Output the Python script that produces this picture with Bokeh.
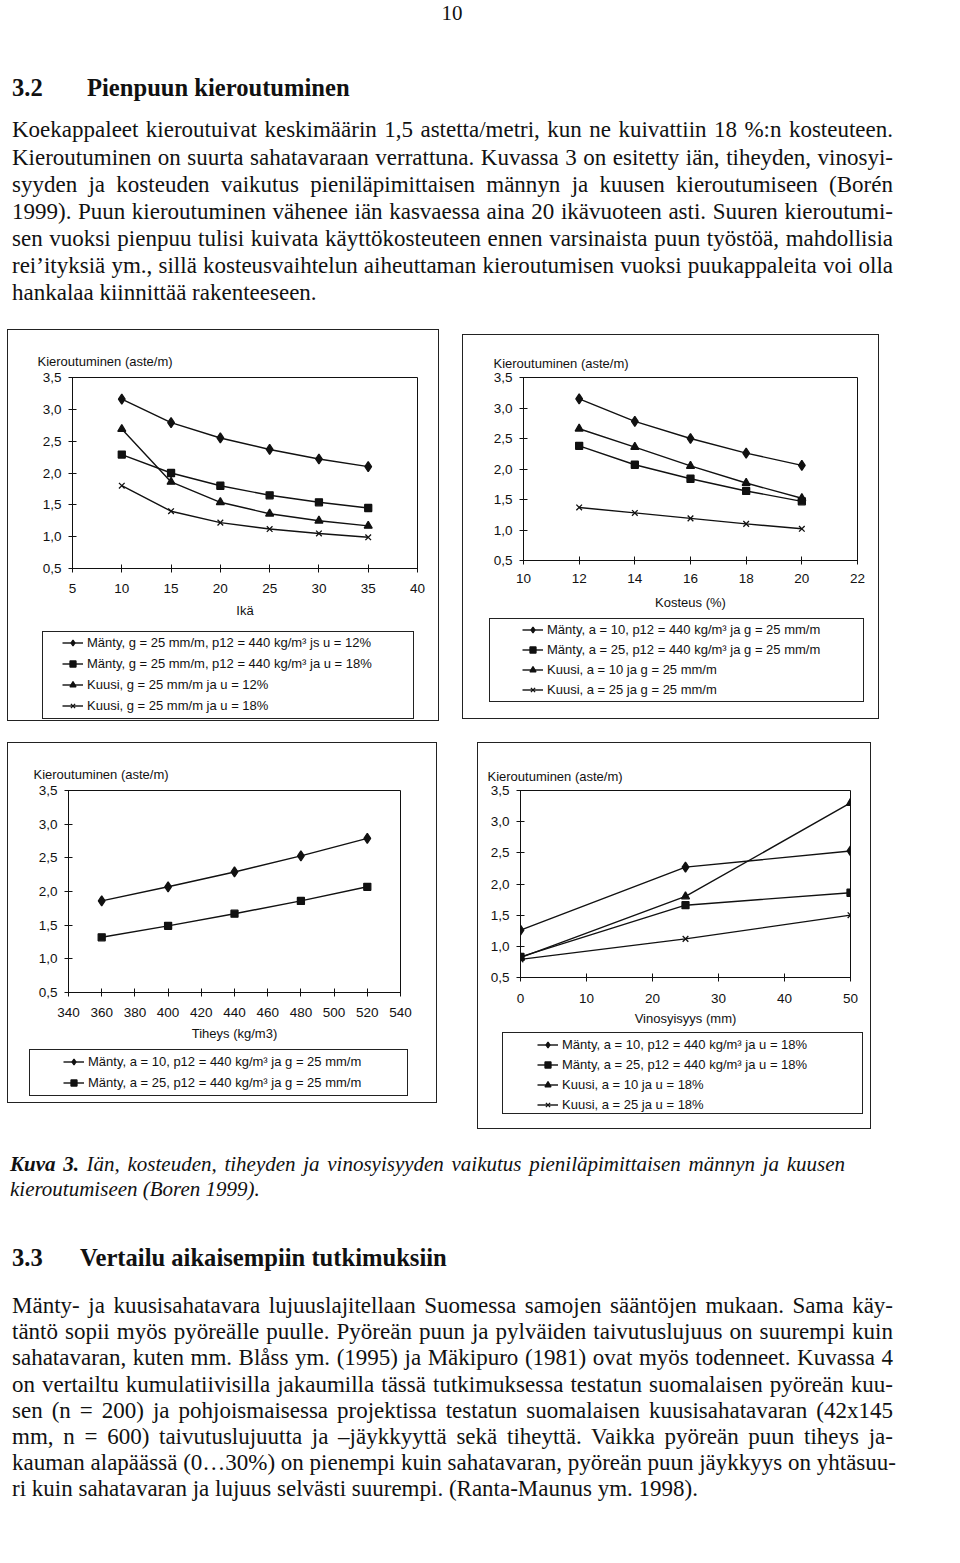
from bokeh.plotting import figure
from bokeh.models import Div, Legend, LegendItem, FixedTicker, CustomJSTickFormatter, Range1d, Title
from bokeh.embed import file_html
from bokeh.resources import INLINE

# ---------------- data ----------------
# Chart 1: age (Ikä)
ika = [10, 15, 20, 25, 30, 35]
ika_manty_u12 = [3.16, 2.79, 2.55, 2.37, 2.22, 2.10]
ika_manty_u18 = [2.29, 2.00, 1.80, 1.65, 1.54, 1.45]
ika_kuusi_u12 = [2.69, 1.86, 1.54, 1.36, 1.25, 1.17]
ika_kuusi_u18 = [1.80, 1.40, 1.22, 1.12, 1.05, 0.99]
ika_ticks = [5, 10, 15, 20, 25, 30, 35, 40]
ika_labels = ["Mänty, g = 25 mm/m, p12 = 440 kg/m³ js u = 12%",
              "Mänty, g = 25 mm/m, p12 = 440 kg/m³ ja u = 18%",
              "Kuusi, g = 25 mm/m ja u = 12%",
              "Kuusi, g = 25 mm/m ja u = 18%"]

# Chart 2: moisture (Kosteus)
kosteus = [12, 14, 16, 18, 20]
kost_manty_a10 = [3.15, 2.78, 2.50, 2.26, 2.06]
kost_manty_a25 = [2.38, 2.07, 1.84, 1.64, 1.47]
kost_kuusi_a10 = [2.66, 2.36, 2.05, 1.77, 1.52]
kost_kuusi_a25 = [1.37, 1.28, 1.19, 1.10, 1.02]
kost_ticks = [10, 12, 14, 16, 18, 20, 22]
kost_labels = ["Mänty, a = 10, p12 = 440 kg/m³ ja g = 25 mm/m",
               "Mänty, a = 25, p12 = 440 kg/m³ ja g = 25 mm/m",
               "Kuusi, a = 10 ja g = 25 mm/m",
               "Kuusi, a = 25 ja g = 25 mm/m"]

# Chart 3: density (Tiheys)
tiheys = [360, 400, 440, 480, 520]
tih_manty_a10 = [1.86, 2.07, 2.29, 2.53, 2.79]
tih_manty_a25 = [1.32, 1.49, 1.67, 1.86, 2.07]
tih_ticks = [340, 360, 380, 400, 420, 440, 460, 480, 500, 520, 540]
tih_labels = ["Mänty, a = 10, p12 = 440 kg/m³ ja g = 25 mm/m",
              "Mänty, a = 25, p12 = 440 kg/m³ ja g = 25 mm/m"]

# Chart 4: grain angle (Vinosyisyys)
vino = [0, 25, 50]
vino_manty_a10 = [1.26, 2.27, 2.53]
vino_manty_a25 = [0.83, 1.66, 1.86]
vino_kuusi_a10 = [0.82, 1.80, 3.30]
vino_kuusi_a25 = [0.79, 1.12, 1.50]
vino_ticks = [0, 10, 20, 30, 40, 50]
vino_labels = ["Mänty, a = 10, p12 = 440 kg/m³ ja u = 18%",
               "Mänty, a = 25, p12 = 440 kg/m³ ja u = 18%",
               "Kuusi, a = 10 ja u = 18%",
               "Kuusi, a = 25 ja u = 18%"]

y_ticks = [0.5, 1.0, 1.5, 2.0, 2.5, 3.0, 3.5]
y_title = "Kieroutuminen (aste/m)"

page_number = "10"
heading_1 = ("3.2", "Pienpuun kieroutuminen")
para_1 = ["Koekappaleet kieroutuivat keskimäärin 1,5 astetta/metri, kun ne kuivattiin 18 %:n kosteuteen.",
          "Kieroutuminen on suurta sahatavaraan verrattuna. Kuvassa 3 on esitetty iän, tiheyden, vinosyi-",
          "syyden ja kosteuden vaikutus pieniläpimittaisen männyn ja kuusen kieroutumiseen (Borén",
          "1999). Puun kieroutuminen vähenee iän kasvaessa aina 20 ikävuoteen asti. Suuren kieroutumi-",
          "sen vuoksi pienpuu tulisi kuivata käyttökosteuteen ennen varsinaista puun työstöä, mahdollisia",
          "rei’ityksiä ym., sillä kosteusvaihtelun aiheuttaman kieroutumisen vuoksi puukappaleita voi olla",
          "hankalaa kiinnittää rakenteeseen."]
caption_bold = "Kuva 3."
caption_lines = [" Iän, kosteuden, tiheyden ja vinosyisyyden vaikutus pieniläpimittaisen männyn ja kuusen",
                 "kieroutumiseen (Boren 1999)."]
heading_2 = ("3.3", "Vertailu aikaisempiin tutkimuksiin")
para_2 = ["Mänty- ja kuusisahatavara lujuuslajitellaan Suomessa samojen sääntöjen mukaan. Sama käy-",
          "täntö sopii myös pyöreälle puulle. Pyöreän puun ja pylväiden taivutuslujuus on suurempi kuin",
          "sahatavaran, kuten mm. Blåss ym. (1995) ja Mäkipuro (1981) ovat myös todenneet. Kuvassa 4",
          "on vertailtu kumulatiivisilla jakaumilla tässä tutkimuksessa testatun suomalaisen pyöreän kuu-",
          "sen (n = 200) ja pohjoismaisessa projektissa testatun suomalaisen kuusisahatavaran (42x145",
          "mm, n = 600) taivutuslujuutta ja –jäykkyyttä sekä tiheyttä. Vaikka pyöreän puun tiheys ja-",
          "kauman alapäässä (0…30%) on pienempi kuin sahatavaran, pyöreän puun jäykkyys on yhtäsuu-",
          "ri kuin sahatavaran ja lujuus selvästi suurempi. (Ranta-Maunus ym. 1998)."]

# ---------------- styling ----------------
SANS = "Liberation Sans"
SERIF = "Liberation Serif"
INK = "#111111"
MARKERS = ["diamond", "square", "triangle", "x"]
MSIZES = [10, 7, 8, 8]


def abs_style(x, y):
    return {"position": "absolute", "left": f"{x}px", "top": f"{y}px",
            "outline": "1px solid #222", "outline-offset": "0px"}


def add_series(p, xs, ys, i):
    ln = p.line(xs, ys, line_color=INK, line_width=1.4)
    sc = p.scatter(xs, ys, marker=MARKERS[i], size=MSIZES[i],
                   fill_color=INK, line_color=INK, line_width=1.3)
    return ln, sc


def make_chart(spec, xs, series):
    p = figure(width=spec["w"], height=spec["h"],
               x_range=Range1d(*spec["xr"]), y_range=Range1d(0.5, 3.5),
               output_backend="svg", toolbar_location=None, tools="",
               min_border_left=spec["mb"][0], min_border_right=spec["mb"][1],
               min_border_top=spec["mb"][2], min_border_bottom=spec["mb"][3])
    p.styles = abs_style(*spec["pos"])
    p.title = Title(text=y_title, align="left", offset=spec["yt"][0], standoff=spec["yt"][1],
                    text_font=SANS, text_font_size="13px", text_font_style="normal",
                    text_color=INK)
    p.background_fill_color = "white"
    p.border_fill_color = "white"
    p.outline_line_color = INK
    p.outline_line_width = 1
    p.xgrid.visible = False
    p.ygrid.visible = False
    for ax in (p.xaxis[0], p.yaxis[0]):
        ax.axis_line_color = INK
        ax.axis_line_width = 1
        ax.major_tick_line_color = INK
        ax.major_tick_in = 4
        ax.major_tick_out = 4
        ax.minor_tick_line_color = None
        ax.major_label_text_font = SANS
        ax.major_label_text_font_size = "13.5px"
        ax.major_label_text_color = INK
    p.xaxis.ticker = FixedTicker(ticks=spec["xticks"])
    p.yaxis.ticker = FixedTicker(ticks=y_ticks)
    p.yaxis.formatter = CustomJSTickFormatter(code="return tick.toFixed(1).replace('.', ',');")
    p.yaxis.major_label_standoff = 7
    p.xaxis.major_label_standoff = spec["xls"]
    p.xaxis.axis_label = spec["xtitle"]
    p.xaxis.axis_label_standoff = spec["xts"]
    p.xaxis.axis_label_text_font = SANS
    p.xaxis.axis_label_text_font_size = "13px"
    p.xaxis.axis_label_text_font_style = "normal"
    p.xaxis.axis_label_text_color = INK
    for i, ys in enumerate(series):
        add_series(p, xs, ys, i)
    return p


def make_legend_box(lspec, xs, series, labels):
    """Legend box of a chart: a Bokeh Legend in its own bordered canvas.
    The series are re-drawn there only as legend samples, outside the visible range."""
    x, y, w, h = lspec["box"]
    lp = figure(width=w, height=h, x_range=Range1d(-1000, -999), y_range=Range1d(-1000, -999),
                output_backend="svg", toolbar_location=None, tools="",
                x_axis_location=None, y_axis_location=None,
                min_border_left=0, min_border_right=0, min_border_top=0, min_border_bottom=0)
    lp.styles = abs_style(x, y)
    lp.outline_line_color = None
    lp.xgrid.visible = False
    lp.ygrid.visible = False
    lp.background_fill_color = "white"
    lp.border_fill_color = "white"
    items = []
    for i, (ys, lab) in enumerate(zip(series, labels)):
        ln, sc = add_series(lp, xs, ys, i)
        items.append(LegendItem(label=lab, renderers=[ln, sc]))
    leg = Legend(items=items, location=lspec["loc"], margin=0, padding=0,
                 border_line_color=None, background_fill_alpha=0,
                 label_text_font=SANS, label_text_font_size="13px", label_text_color=INK,
                 label_height=15, glyph_height=15, glyph_width=21, label_standoff=4,
                 spacing=lspec["sp"])
    lp.add_layout(leg)
    return lp


spec1 = dict(pos=(8, 330), w=430, h=390, xr=(5, 40), xticks=ika_ticks, mb=(64, 21, 47, 152),
             xls=11, xts=7, xtitle="Ikä", yt=(-35, 17))
spec2 = dict(pos=(463, 335), w=415, h=383, xr=(10, 22), xticks=kost_ticks, mb=(60, 21, 42, 158),
             xls=9, xts=9, xtitle="Kosteus (%)", yt=(-30, 14))
spec3 = dict(pos=(8, 743), w=428, h=359, xr=(340, 540), xticks=tih_ticks, mb=(60, 36, 47, 110),
             xls=11, xts=6, xtitle="Tiheys (kg/m3)", yt=(-35, 18))
spec4 = dict(pos=(478, 743), w=392, h=385, xr=(0, 50), xticks=vino_ticks, mb=(42, 20, 47, 151),
             xls=12, xts=5, xtitle="Vinosyisyys (mm)", yt=(-33, 14))

leg1 = dict(box=(43, 632, 370, 86), loc=(19, 5), sp=6)
leg2 = dict(box=(490, 619, 373, 82), loc=(32, 4), sp=5)
leg3 = dict(box=(30, 1050, 377, 45), loc=(33, 5), sp=6)
leg4 = dict(box=(503, 1033, 359, 80), loc=(34, 1), sp=5)

ika_series = [ika_manty_u12, ika_manty_u18, ika_kuusi_u12, ika_kuusi_u18]
kost_series = [kost_manty_a10, kost_manty_a25, kost_kuusi_a10, kost_kuusi_a25]
tih_series = [tih_manty_a10, tih_manty_a25]
vino_series = [vino_manty_a10, vino_manty_a25, vino_kuusi_a10, vino_kuusi_a25]

c1 = make_chart(spec1, ika, ika_series)
c2 = make_chart(spec2, kosteus, kost_series)
c3 = make_chart(spec3, tiheys, tih_series)
c4 = make_chart(spec4, vino, vino_series)
l1 = make_legend_box(leg1, ika, ika_series, ika_labels)
l2 = make_legend_box(leg2, kosteus, kost_series, kost_labels)
l3 = make_legend_box(leg3, tiheys, tih_series, tih_labels)
l4 = make_legend_box(leg4, vino, vino_series, vino_labels)


# ---------------- text (page coordinates) ----------------
def tline(html, left, top, width=None, size=23, lh=26, justify=False, extra=""):
    w = f"width:{width}px;" if width else ""
    j = "text-align:justify;text-align-last:justify;" if justify else ""
    return (f'<div style="position:absolute;left:{left}px;top:{top}px;{w}white-space:nowrap;'
            f'font-size:{size}px;line-height:{lh}px;{j}{extra}">{html}</div>')


parts = [tline(page_number, 432, 13 - 13, width=40, size=21, extra="text-align:center;")]
parts.append(tline(heading_1[0], 12, 88 - 15, size=24.6, lh=30, extra="font-weight:bold;"))
parts.append(tline(heading_1[1], 87, 88 - 15, size=24.6, lh=30, extra="font-weight:bold;"))
para1_y = [129, 157, 184, 211, 238, 265, 292]
for i, (txt, yc) in enumerate(zip(para_1, para1_y)):
    parts.append(tline(txt, 12, yc - 12, width=881, justify=(i < len(para_1) - 1)))
parts.append(tline(f'<b>{caption_bold}</b>{caption_lines[0]}', 10, 1163 - 11, width=835,
                   size=21, lh=24, justify=True, extra="font-style:italic;"))
parts.append(tline(caption_lines[1], 10, 1188 - 11, size=21, lh=24, extra="font-style:italic;"))
parts.append(tline(heading_2[0], 12, 1258 - 15, size=24.6, lh=30, extra="font-weight:bold;"))
parts.append(tline(heading_2[1], 80, 1258 - 15, size=24.6, lh=30, extra="font-weight:bold;"))
para2_y = [1305, 1331, 1357, 1384, 1410, 1436, 1462, 1488]
for i, (txt, yc) in enumerate(zip(para_2, para2_y)):
    parts.append(tline(txt, 12, yc - 12, width=881, justify=(i < len(para_2) - 1)))

PAGE_W, PAGE_H = 944, 1545
html = (f'<div style="position:relative;width:{PAGE_W}px;height:{PAGE_H}px;'
        f'font-family:\'{SERIF}\',serif;color:{INK};">' + "".join(parts) + '</div>')
text_page = Div(text=html, width=PAGE_W, height=PAGE_H, margin=(0, 0, 0, 0),
                styles={"position": "absolute", "left": "0px", "top": "0px", "overflow": "visible"})

roots = [text_page, c1, c2, c3, c4, l1, l2, l3, l4]
open("out.html", "w").write(file_html(roots, INLINE, title="Kieroutuminen"))
